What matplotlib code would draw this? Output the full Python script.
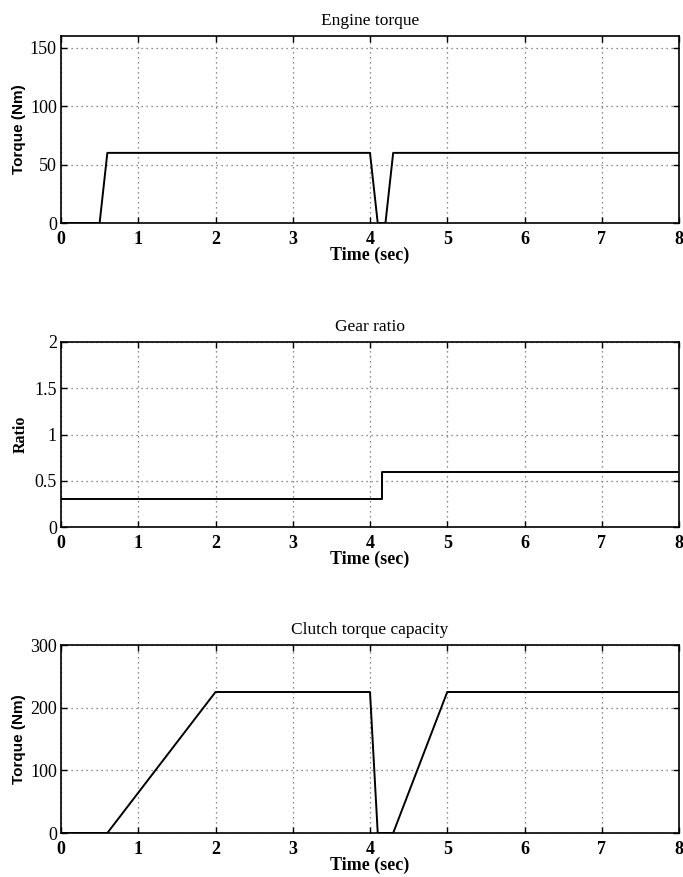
import matplotlib
matplotlib.use("Agg")
import matplotlib.pyplot as plt

# Engine torque (Nm) vs time (sec)
engine_t = [0.0, 0.5, 0.6, 4.0, 4.1, 4.2, 4.3, 8.0]
engine_torque = [0, 0, 60, 60, 0, 0, 60, 60]

# Gear ratio vs time (sec)
gear_t = [0.0, 4.15, 4.15, 8.0]
gear_ratio = [0.3, 0.3, 0.6, 0.6]

# Clutch torque capacity (Nm) vs time (sec)
clutch_t = [0.0, 0.6, 2.0, 4.0, 4.1, 4.3, 5.0, 8.0]
clutch_torque = [0, 0, 225, 225, 0, 0, 225, 225]

x_ticks = [0, 1, 2, 3, 4, 5, 6, 7, 8]
engine_yticks = [0, 50, 100, 150]
gear_yticks = [0, 0.5, 1, 1.5, 2]
gear_yticklabels = ["0", "0.5", "1", "1.5", "2"]
clutch_yticks = [0, 100, 200, 300]

W, H = 683, 877
LEFT, RIGHT = 61, 679
fig = plt.figure(figsize=(W / 100, H / 100), dpi=100)
fig.patch.set_facecolor("white")

serif = "Liberation Serif"
sans = "Liberation Sans"


def make_axes(top, bottom):
    return fig.add_axes([LEFT / W, 1 - bottom / H, (RIGHT - LEFT) / W, (bottom - top) / H])


def style(ax, title, ylabel, ylabel_family, ylabel_size, ylabel_right_px,
          yticks, ylim, yticklabels=None):
    ax.set_xlim(0, 8)
    ax.set_ylim(*ylim)
    ax.set_xticks(x_ticks)
    ax.set_xticklabels([str(v) for v in x_ticks], fontfamily=serif,
                       fontsize=13, fontweight="bold")
    ax.set_yticks(yticks)
    labels = yticklabels if yticklabels is not None else [str(v) for v in yticks]
    ax.set_yticklabels(labels, fontfamily=serif, fontsize=13)
    ax.tick_params(direction="in", top=True, right=True, length=4, width=1.0,
                   color="black")
    ax.tick_params(axis="x", pad=6)
    ax.tick_params(axis="y", pad=3)
    ax.grid(True, linestyle=(0, (1, 3)), color="#666666", linewidth=0.9)
    for s in ax.spines.values():
        s.set_linewidth(1.2)
        s.set_color("black")
    ax.set_title(title, fontfamily=serif, fontsize=12.5, pad=8)
    ax.set_xlabel("Time (sec)", fontfamily=serif, fontsize=13,
                  fontweight="bold", labelpad=-1)
    ax.set_ylabel(ylabel, fontfamily=ylabel_family, fontsize=ylabel_size,
                  fontweight="bold")
    ax.yaxis.set_label_coords((ylabel_right_px - LEFT) / (RIGHT - LEFT), 0.5)


ax1 = make_axes(36, 223)
ax1.plot(engine_t, engine_torque, color="black", linewidth=1.4)
style(ax1, "Engine torque", "Torque (Nm)", sans, 11, 26,
      engine_yticks, (0, 160))

ax2 = make_axes(342, 527)
ax2.plot(gear_t, gear_ratio, color="black", linewidth=1.4)
style(ax2, "Gear ratio", "Ratio", serif, 11.5, 29,
      gear_yticks, (0, 2), gear_yticklabels)

ax3 = make_axes(645, 833)
ax3.plot(clutch_t, clutch_torque, color="black", linewidth=1.4)
style(ax3, "Clutch torque capacity", "Torque (Nm)", sans, 11, 26,
      clutch_yticks, (0, 300))

fig.savefig("out.png", dpi=100, facecolor="white")
